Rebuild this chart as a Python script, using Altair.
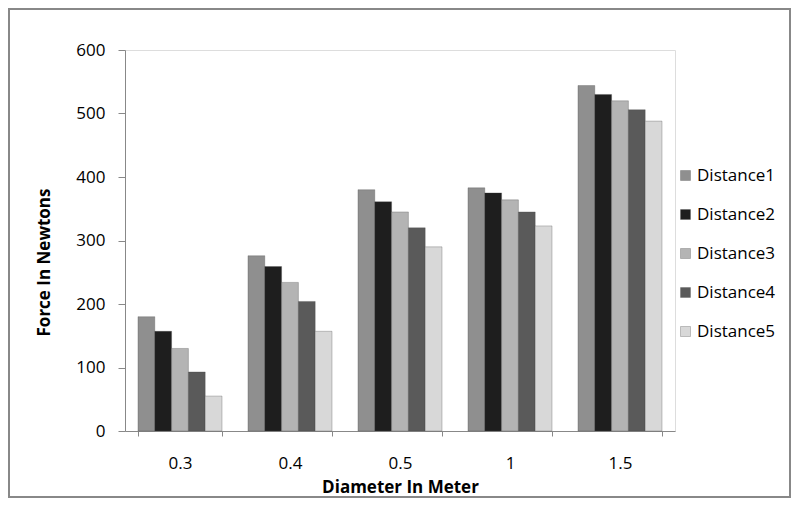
import altair as alt
import pandas as pd

diameters = ["0.3", "0.4", "0.5", "1", "1.5"]
series = ["Distance1", "Distance2", "Distance3", "Distance4", "Distance5"]
d1 = [180, 276, 380, 383, 544]
d2 = [157, 259, 361, 375, 530]
d3 = [130, 234, 345, 364, 520]
d4 = [93, 204, 320, 345, 506]
d5 = [55, 157, 290, 323, 488]

rows = []
for s, vals in zip(series, [d1, d2, d3, d4, d5]):
    for d, v in zip(diameters, vals):
        rows.append({"Diameter": d, "Series": s, "Force": v})
df = pd.DataFrame(rows)

fills = ["#8f8f8f", "#1e1e1e", "#b4b4b4", "#5a5a5a", "#d8d8d8"]
FONT = "Open Sans"
FS = 17

bars = alt.Chart(df).mark_bar(stroke="#444", strokeWidth=0.3).encode(
    x=alt.X("Diameter:N", sort=diameters,
            scale=alt.Scale(paddingInner=0.236, paddingOuter=0.118),
            axis=alt.Axis(title="Diameter In Meter", labelAngle=0, tickBand="extent",
                          tickSize=5, labelPadding=19, titlePadding=8,
                          domainColor="#888", tickColor="#888",
                          labelFont=FONT, labelFontSize=FS, labelColor="#000",
                          titleFont=FONT, titleFontSize=FS, titleFontWeight="bold",
                          titleColor="#000")),
    xOffset=alt.XOffset("Series:N", sort=series, scale=alt.Scale(paddingInner=0, paddingOuter=0)),
    y=alt.Y("Force:Q", scale=alt.Scale(domain=[0, 600], nice=False),
            axis=alt.Axis(title="Force In Newtons", values=[0, 100, 200, 300, 400, 500, 600],
                          grid=False, tickSize=7, labelPadding=13, titlePadding=22,
                          titleY=212,
                          domainColor="#888", tickColor="#888",
                          labelFont=FONT, labelFontSize=FS, labelColor="#000",
                          titleFont=FONT, titleFontSize=FS, titleFontWeight="bold",
                          titleColor="#000")),
    color=alt.Color("Series:N", sort=series,
                    scale=alt.Scale(domain=series, range=fills),
                    legend=alt.Legend(title=None, orient="none", legendX=552, legendY=117,
                                      symbolType="square", symbolSize=100,
                                      symbolStrokeColor="#444", symbolStrokeWidth=0.3,
                                      labelFont=FONT, labelFontSize=FS, labelColor="#000",
                                      rowPadding=21, labelOffset=3)),
)

frame = alt.Chart(df).mark_rect(fill=None, stroke="#888", strokeWidth=1.5).encode(
    x=alt.value(-116), x2=alt.value(665), y=alt.value(-41), y2=alt.value(447)
)

chart = alt.layer(bars, frame).properties(
    width=550, height=381,
    autosize=alt.AutoSizeParams(type="none"),
    padding={"left": 117, "top": 42, "right": 125, "bottom": 68},
).configure_view(stroke=None).configure(background="white")

chart.save("out.html", embed_options={"renderer": "svg", "actions": False})
